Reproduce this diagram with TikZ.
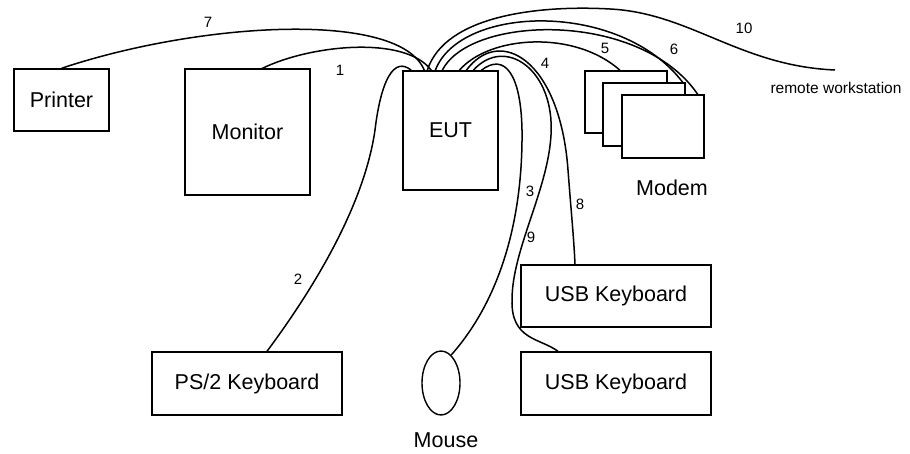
\documentclass[tikz,border=0pt]{standalone}
\usepackage{fontspec}
\setmainfont{Liberation Sans}
\usetikzlibrary{shapes.geometric}
\begin{document}
\begin{tikzpicture}[x=1pt,y=-1pt,
  box/.style={draw, line width=1.4pt, fill=white, inner sep=0pt, font=\fontsize{21.5}{25}\selectfont},
  cable/.style={line width=1.5pt},
  num/.style={font=\fontsize{15}{18}\selectfont, inner sep=1pt},
  lbl/.style={font=\fontsize{21.5}{25}\selectfont, inner sep=1pt}]
\useasboundingbox (0,0) rectangle (910,454);
% devices
\node[box, minimum width=95pt, minimum height=62pt] (printer) at (61.5,100) {Printer};
\node[box, minimum width=125pt, minimum height=126pt] (monitor) at (247.5,132) {Monitor};
\node[box, minimum width=95pt, minimum height=119pt] (eut) at (450.5,130.5) {EUT};
\node[box, minimum width=82pt, minimum height=62pt] (modem1) at (626,102) {};
\node[box, minimum width=82pt, minimum height=63pt] (modem2) at (644,114.5) {};
\node[box, minimum width=82pt, minimum height=63pt] (modem3) at (663,126.5) {};
\node[box, minimum width=190pt, minimum height=62pt] (usb1) at (616,296) {USB Keyboard};
\node[box, minimum width=190pt, minimum height=63pt] (usb2) at (616,383.5) {USB Keyboard};
\node[box, minimum width=190pt, minimum height=63pt] (ps2) at (247,383.5) {PS/2 Keyboard};
\node[box, ellipse, minimum width=38pt, minimum height=64pt] (mouse) at (441,383) {};
\coordinate (rw) at (835,70);
% captions
\node[lbl] (modemlbl) at (672,188) {Modem};
\node[lbl] (mouselbl) at (446,440) {Mouse};
\node[font=\fontsize{15.5}{18}\selectfont, inner sep=1pt] (rwlbl) at (836,88) {remote workstation};
% cables
\draw[cable] (printer.north) .. controls (200,22) and (400,10) .. ([xshift=22pt]eut.north west);
\draw[cable] ([xshift=15pt]monitor.north) .. controls (310,45) and (405,35) .. ([xshift=29pt]eut.north west);
\draw[cable] ([xshift=20pt]ps2.north) .. controls (320,280) and (365,200) .. (375,130) .. controls (381,80) and (394,56) .. ([xshift=9pt]eut.north west);
\draw[cable] ([xshift=25pt]eut.north west) .. controls (445,15) and (540,5) .. (610,9) .. controls (690,13) and (740,66) .. (rw);
\draw[cable] ([xshift=33pt]eut.north west) .. controls (460,5) and (620,0) .. ([xshift=-3pt]modem2.north east);
\draw[cable] ([xshift=40pt]eut.north west) .. controls (470,15) and (640,10) .. ([xshift=-7pt]modem3.north east);
\draw[cable] ([xshift=57pt]eut.north west) .. controls (490,35) and (575,30) .. ([xshift=-6pt]modem1.north);
\draw[cable] ([xshift=64pt]eut.north west) .. controls (500,25) and (560,60) .. (568,170) .. controls (571,210) and (574,240) .. ([xshift=-41pt]usb1.north);
\draw[cable] ([xshift=71pt]eut.north west) .. controls (505,35) and (555,70) .. (551,135) .. controls (548,190) and (512,250) .. (512,300) .. controls (511,340) and (540,338) .. ([xshift=-58pt]usb2.north);
\draw[cable] ([xshift=79pt]eut.north west) .. controls (505,52) and (521,75) .. (522,130) .. controls (523,220) and (500,300) .. (mouse.70);
% cable numbers
\node[num] (n7) at (208,22) {7};
\node[num] (n1) at (340,70) {1};
\node[num] (n2) at (298,279) {2};
\node[num] (n3) at (530,191) {3};
\node[num] (n4) at (545,63) {4};
\node[num] (n5) at (605,48) {5};
\node[num] (n6) at (674,49) {6};
\node[num] (n8) at (580,204) {8};
\node[num] (n9) at (531,237) {9};
\node[num] (n10) at (744,28) {10};
\end{tikzpicture}
\end{document}
